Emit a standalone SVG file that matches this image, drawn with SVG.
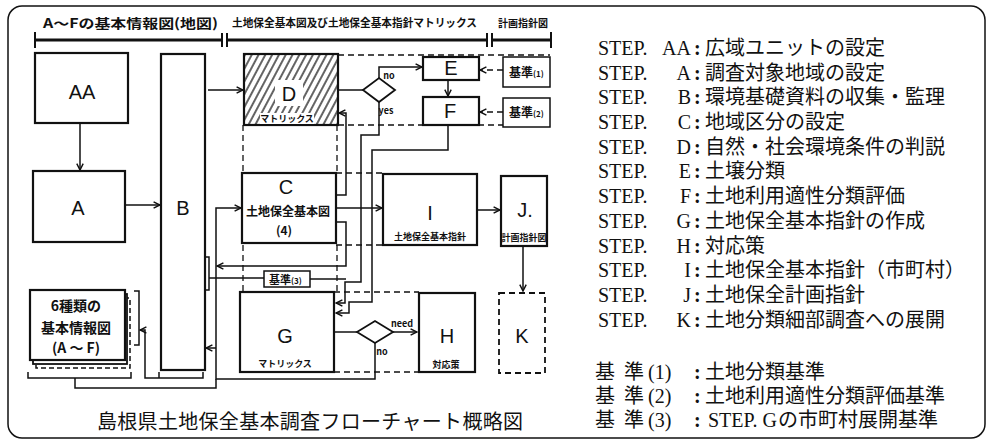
<svg xmlns="http://www.w3.org/2000/svg" width="989" height="444" viewBox="0 0 989 444">
<defs>
<marker id="arr" viewBox="0 0 10 10" refX="9" refY="5" markerWidth="8" markerHeight="8" markerUnits="userSpaceOnUse" orient="auto"><path d="M1,1 L9,5 L1,9" fill="none" stroke="#111" stroke-width="1.8"/></marker>
<pattern id="hatch" width="6" height="6" patternUnits="userSpaceOnUse" patternTransform="rotate(28)"><line x1="2" y1="0" x2="2" y2="6" stroke="#222" stroke-width="1.4"/></pattern>
</defs>
<style>
.box{fill:#fff;stroke:#111;stroke-width:2.2}
.dbox{fill:#fff;stroke:#111;stroke-width:1.8;stroke-dasharray:6 4}
.ln{fill:none;stroke:#111;stroke-width:1.5}
.dl{fill:none;stroke:#111;stroke-width:1.3;stroke-dasharray:6 4}
.lbl{font-family:"Liberation Sans",Arial,sans-serif;font-size:20px;text-anchor:middle;fill:#111}
.hw{font-family:"Noto Sans CJK JP",sans-serif;font-weight:bold;fill:#111}
.st{font-family:"Liberation Serif","Noto Sans CJK JP",serif;font-size:20px;fill:#111}
.co{font-family:"Liberation Serif",serif;font-size:20px;font-weight:bold;fill:#111}
.jp{font-family:"Noto Sans CJK JP",sans-serif;font-size:20px;fill:#111}
.sm{font-family:"Noto Sans CJK JP",sans-serif;font-weight:bold;font-size:9px;fill:#111;text-anchor:middle}
</style>
<rect x="8" y="6" width="977" height="432" rx="14" fill="none" stroke="#111" stroke-width="1.5"/>

<g id="header">
<path d="M35,40 H222 M227,40 H487 M492,40 H551" fill="none" stroke="#111" stroke-width="3"/>
<path d="M35,32 V48 M222,33 V47 M227,33 V47 M487,33 V47 M492,33 V47 M551,32 V48" fill="none" stroke="#111" stroke-width="2"/>
<text class="hw" x="43" y="28" font-size="13" textLength="175" lengthAdjust="spacingAndGlyphs">A～Fの基本情報図(地図)</text>
<text class="hw" x="232" y="27" font-size="11" textLength="245" lengthAdjust="spacingAndGlyphs">土地保全基本図及び土地保全基本指針マトリックス</text>
<text class="hw" x="498" y="27" font-size="10" textLength="50" lengthAdjust="spacingAndGlyphs">計画指針図</text>
</g>

<g id="group-frame">
<path class="dl" d="M338,55 H550 M338,125 H550 M243,125 V173 M337,125 V173 M336,173 H383 M336,245 H383 M243,245 V292 M337,245 V292 M334,292 H419 M334,372 H419"/>
</g>

<g id="connectors">
<path class="ln" d="M80,123 V170" marker-end="url(#arr)"/>
<path class="ln" d="M125,205 H160" marker-end="url(#arr)"/>
<path class="ln" d="M208,90 H243" marker-end="url(#arr)"/>
<path class="ln" d="M338,90 H363"/>
<path class="ln" d="M379,78 V67 H422" marker-end="url(#arr)"/>
<path class="ln" d="M448,80 V96" marker-end="url(#arr)"/>
<path class="dl" d="M503,70 H480" marker-end="url(#arr)"/>
<path class="dl" d="M503,112 H480" marker-end="url(#arr)"/>
<path class="ln" d="M336,195 H346 V113 H339" marker-end="url(#arr)"/>
<path class="ln" d="M336,208 H382" marker-end="url(#arr)"/>
<path class="ln" d="M379,102 V135 H361 V282 H345 V303 H336" marker-end="url(#arr)"/>
<path class="ln" d="M448,125 V150 H372 V302 H349 V313 H336" marker-end="url(#arr)"/>
<path class="ln" d="M336,222 H346 V266 H217" marker-end="url(#arr)"/>
<path class="ln" d="M310,279 H346"/>
<path class="ln" d="M205,257 H209 V290 H205 M209,278 H264"/>
<path class="ln" d="M375,343 V379 H216 V208 H241" marker-end="url(#arr)"/>
<path class="ln" d="M216,348 H206" marker-end="url(#arr)"/>
<path class="ln" d="M477,210 H500" marker-end="url(#arr)"/>
<path class="ln" d="M523,246 V291" marker-end="url(#arr)"/>
<path class="ln" d="M334,332 H357"/>
<path class="ln" d="M393,332 H417" marker-end="url(#arr)"/>
<path class="ln" d="M28,372 V378 H131 V372 M75,378 V388 H216 V379"/>
<path class="ln" d="M159,372 V378 H203 V372 M159,378 H145 V330 H140" marker-end="url(#arr)"/>
<path class="ln" d="M134,291 H139 V345 H134"/>
<text class="sm" x="389" y="79">no</text>
<text class="sm" x="386" y="114">yes</text>
<text class="sm" x="402" y="327">need</text>
<text class="sm" x="382" y="355">no</text>
</g>

<g id="AA"><rect class="box" x="35" y="53" width="93" height="70"/><text class="lbl" x="82" y="99">AA</text></g>
<g id="A"><rect class="box" x="33" y="171" width="92" height="71"/><text class="lbl" x="78" y="215">A</text></g>
<g id="B"><rect class="box" x="161" y="54" width="44" height="316"/><text class="lbl" x="183" y="215">B</text></g>
<g id="D"><rect x="244" y="54" width="94" height="71" fill="url(#hatch)" stroke="#111" stroke-width="2.2"/><rect x="275" y="80" width="28" height="26" fill="#fff"/><text class="lbl" x="289" y="101" font-size="22">D</text><rect x="260" y="113" width="54" height="11" fill="#fff"/><text class="sm" x="287" y="122">マトリックス</text></g>
<g id="decision1"><path d="M363,90 L379,78 L395,90 L379,102 Z" fill="#fff" stroke="#111" stroke-width="1.8"/></g>
<g id="E"><rect class="box" x="423" y="57" width="56" height="23"/><text class="lbl" x="451" y="75" font-size="18">E</text></g>
<g id="F"><rect class="box" x="423" y="97" width="56" height="28"/><text class="lbl" x="450" y="118" font-size="18">F</text></g>
<g id="K1"><rect x="503" y="57" width="47" height="30" fill="#fff" stroke="#111" stroke-width="1.5"/><text class="hw" x="509" y="77" font-size="12">基準<tspan font-size="8">(1)</tspan></text></g>
<g id="K2"><rect x="503" y="98" width="47" height="29" fill="#fff" stroke="#111" stroke-width="1.5"/><text class="hw" x="509" y="117" font-size="12">基準<tspan font-size="8">(2)</tspan></text></g>
<g id="C"><rect class="box" x="242" y="173" width="94" height="70"/><text class="lbl" x="286" y="194">C</text><text class="hw" x="288" y="216" font-size="12" text-anchor="middle" textLength="84" lengthAdjust="spacingAndGlyphs">土地保全基本図</text><text class="hw" x="284" y="235" font-size="12" text-anchor="middle">(4)</text></g>
<g id="K3"><rect x="264" y="271" width="46" height="16" fill="#fff" stroke="#111" stroke-width="1.5"/><text class="hw" x="269" y="284" font-size="11">基準<tspan font-size="8">(3)</tspan></text></g>
<g id="I"><rect class="box" x="383" y="174" width="94" height="71"/><text class="lbl" x="430" y="220" font-family="Liberation Serif" font-size="22">I</text><text class="sm" x="430" y="240" font-size="7">土地保全基本指針</text></g>
<g id="J"><rect class="box" x="501" y="176" width="46" height="70"/><text class="lbl" x="525" y="217" font-size="18">J.</text><text class="sm" x="524" y="241" font-size="8">計画指針図</text></g>
<g id="stack">
<rect x="36" y="298" width="94" height="70" fill="#fff" stroke="#111" stroke-width="1.5" stroke-dasharray="5 3"/>
<rect x="33" y="294" width="94" height="70" fill="#fff" stroke="#111" stroke-width="1.8"/>
<rect class="box" x="30" y="290" width="95" height="70"/>
<text class="hw" x="76" y="311" font-size="14" text-anchor="middle">6種類の</text>
<text class="hw" x="76" y="333" font-size="14" text-anchor="middle">基本情報図</text>
<text class="hw" x="76" y="353" font-size="14" text-anchor="middle">(A ～ F)</text>
</g>
<g id="G"><rect class="box" x="240" y="292" width="94" height="80"/><text class="lbl" x="285" y="343">G</text><text class="sm" x="285" y="367">マトリックス</text></g>
<g id="decision2"><path d="M357,332 L375,321 L393,332 L375,343 Z" fill="#fff" stroke="#111" stroke-width="1.8"/></g>
<g id="H"><rect class="box" x="419" y="293" width="56" height="79"/><text class="lbl" x="447" y="343">H</text><text class="sm" x="446" y="368" font-size="8">対応策</text></g>
<g id="Kbox"><rect class="dbox" x="499" y="293" width="46" height="80"/><text class="lbl" x="522" y="343">K</text></g>

<text class="jp" x="97" y="429" font-size="19" textLength="426" lengthAdjust="spacing">島根県土地保全基本調査フローチャート概略図</text>

<g id="legend">
<text class="jp"><tspan class="st" x="598" y="55">STEP.</tspan><tspan class="st" x="662.1" y="55">AA</tspan><tspan class="co" x="694" y="55">:</tspan><tspan x="705" y="55">広域ユニットの設定</tspan><tspan class="st" x="598" y="80">STEP.</tspan><tspan class="st" x="676.6" y="80">A</tspan><tspan class="co" x="694" y="80">:</tspan><tspan x="705" y="80">調査対象地域の設定</tspan><tspan class="st" x="598" y="104">STEP.</tspan><tspan class="st" x="677.7" y="104">B</tspan><tspan class="co" x="694" y="104">:</tspan><tspan x="705" y="104">環境基礎資料の収集・監理</tspan><tspan class="st" x="598" y="129">STEP.</tspan><tspan class="st" x="677.7" y="129">C</tspan><tspan class="co" x="694" y="129">:</tspan><tspan x="705" y="129">地域区分の設定</tspan><tspan class="st" x="598" y="154">STEP.</tspan><tspan class="st" x="676.6" y="154">D</tspan><tspan class="co" x="694" y="154">:</tspan><tspan x="705" y="154">自然・社会環境条件の判説</tspan><tspan class="st" x="598" y="178">STEP.</tspan><tspan class="st" x="678.8" y="178">E</tspan><tspan class="co" x="694" y="178">:</tspan><tspan x="705" y="178">土壌分類</tspan><tspan class="st" x="598" y="203">STEP.</tspan><tspan class="st" x="679.9" y="203">F</tspan><tspan class="co" x="694" y="203">:</tspan><tspan x="705" y="203">土地利用適性分類評価</tspan><tspan class="st" x="598" y="228">STEP.</tspan><tspan class="st" x="676.6" y="228">G</tspan><tspan class="co" x="694" y="228">:</tspan><tspan x="705" y="228">土地保全基本指針の作成</tspan><tspan class="st" x="598" y="253">STEP.</tspan><tspan class="st" x="676.6" y="253">H</tspan><tspan class="co" x="694" y="253">:</tspan><tspan x="705" y="253">対応策</tspan><tspan class="st" x="598" y="277">STEP.</tspan><tspan class="st" x="684.3" y="277">I</tspan><tspan class="co" x="694" y="277">:</tspan><tspan x="705" y="277">土地保全基本指針（市町村）</tspan><tspan class="st" x="598" y="302">STEP.</tspan><tspan class="st" x="683.2" y="302">J</tspan><tspan class="co" x="694" y="302">:</tspan><tspan x="705" y="302">土地保全計画指針</tspan><tspan class="st" x="598" y="327">STEP.</tspan><tspan class="st" x="676.6" y="327">K</tspan><tspan class="co" x="694" y="327">:</tspan><tspan x="705" y="327">土地分類細部調査への展開</tspan></text>
<text class="jp"><tspan x="595" y="379">基</tspan><tspan x="624" y="379">準</tspan><tspan class="st" x="648" y="379">(1)</tspan><tspan class="co" x="694" y="379">:</tspan><tspan x="705" y="379">土地分類基準</tspan><tspan x="595" y="403">基</tspan><tspan x="624" y="403">準</tspan><tspan class="st" x="648" y="403">(2)</tspan><tspan class="co" x="694" y="403">:</tspan><tspan x="705" y="403">土地利用適性分類評価基準</tspan><tspan x="595" y="427">基</tspan><tspan x="624" y="427">準</tspan><tspan class="st" x="648" y="427">(3)</tspan><tspan class="co" x="694" y="427">:</tspan><tspan class="st" x="708" y="427">STEP. G</tspan><tspan x="778" y="427">の市町村展開基準</tspan></text>
</g>
</svg>
